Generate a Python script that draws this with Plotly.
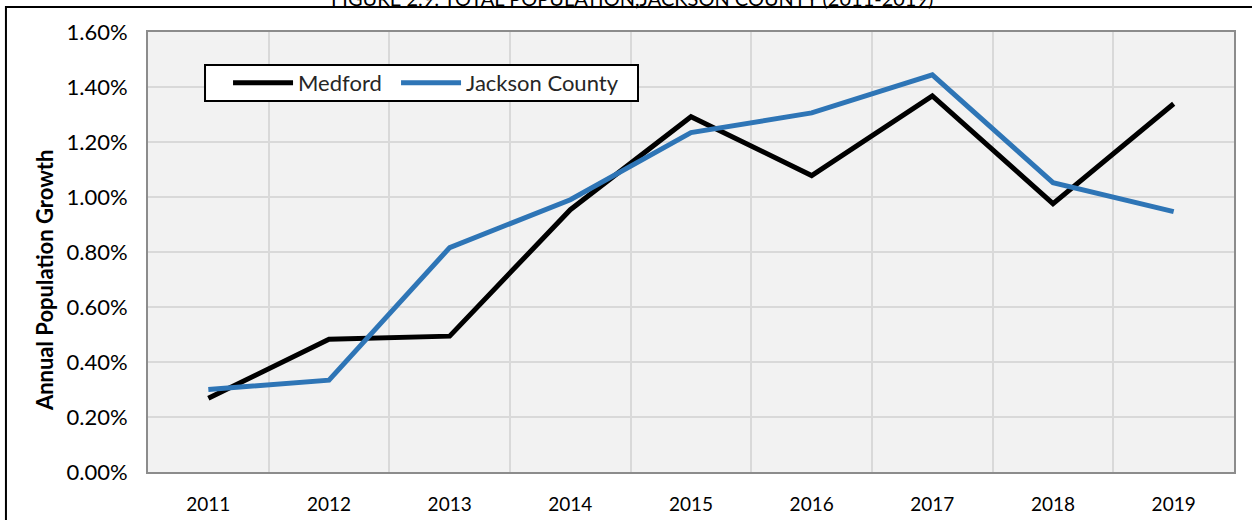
import plotly.graph_objects as go

years = ["2011", "2012", "2013", "2014", "2015", "2016", "2017", "2018", "2019"]
medford = [0.00268, 0.00483, 0.00494, 0.00954, 0.01292, 0.01078, 0.01368, 0.00976, 0.01339]
jackson = [0.00300, 0.00334, 0.00816, 0.00990, 0.01234, 0.01306, 0.01444, 0.01052, 0.00947]
series_names = ["Medford", "Jackson County"]
title_text = "FIGURE 2.9: TOTAL POPULATION,JACKSON COUNTY (2011-2019)"
y_title = "Annual Population Growth"

FONT = "Lato"

fig = go.Figure()
fig.add_trace(go.Scatter(x=years, y=medford, name=series_names[0], mode="lines",
                         line=dict(color="#000000", width=5), legend="legend"))
fig.add_trace(go.Scatter(x=years, y=jackson, name=series_names[1], mode="lines",
                         line=dict(color="#2e75b6", width=5), legend="legend2"))

leg_common = dict(orientation="h", yanchor="middle", xanchor="left", y=0.884,
                  bgcolor="rgba(0,0,0,0)", borderwidth=0, itemwidth=60,
                  font=dict(family=FONT, size=22, color="#262626"))

fig.update_layout(
    width=1252, height=520,
    margin=dict(l=148, r=18, t=32, b=48, autoexpand=False),
    paper_bgcolor="white",
    plot_bgcolor="#f2f2f2",
    font=dict(family=FONT, size=17, color="#262626"),
    showlegend=True,
    legend=dict(x=0.0737, **leg_common),
    legend2=dict(x=0.2284, **leg_common),
    xaxis=dict(
        type="category", tickson="boundaries", range=[-0.5, 8.5],
        automargin=False,
        showgrid=True, gridcolor="#d9d9d9", gridwidth=2,
        showline=True, linecolor="#8c8c8c", linewidth=2, mirror=True,
        ticks="", ticklabelstandoff=14,
        tickfont=dict(family=FONT, size=19, color="#000000"),
        zeroline=False,
    ),
    yaxis=dict(
        range=[0, 0.016], dtick=0.002, tickformat=".2%",
        automargin=False,
        showgrid=True, gridcolor="#d9d9d9", gridwidth=2,
        showline=True, linecolor="#8c8c8c", linewidth=2, mirror=True,
        ticks="outside", ticklen=14, tickcolor="rgba(0,0,0,0)",
        tickfont=dict(family=FONT, size=22, color="#000000"),
        zeroline=False,
    ),
)

# legend box
fig.add_shape(type="rect", xref="paper", yref="paper",
              x0=0.0525, x1=0.4512, y0=0.8432, y1=0.925,
              line=dict(color="black", width=2), fillcolor="white", layer="above")

# outer frame (partially cut off at right/bottom, as in the reference)
fig.add_shape(type="rect", xref="paper", yref="paper",
              x0=-0.1308, x1=1.03, y0=-0.2, y1=1.0568,
              line=dict(color="black", width=2), fillcolor="rgba(0,0,0,0)", layer="above")

# y-axis title
fig.add_annotation(text="<b>" + y_title + "</b>", xref="paper", yref="paper",
                   x=-0.0958, y=0.436, textangle=-90, showarrow=False,
                   xanchor="center", yanchor="middle",
                   font=dict(family=FONT, size=22, color="#000000"))

# cut-off title text at the very top
fig.add_annotation(text=title_text, xref="paper", yref="paper", x=0.446, y=1.077,
                   xanchor="center", yanchor="middle", showarrow=False,
                   font=dict(family=FONT, size=20, color="#000000"))

fig.write_html("out.html", config={"displayModeBar": False},
               post_script="document.body.style.margin='0';")
